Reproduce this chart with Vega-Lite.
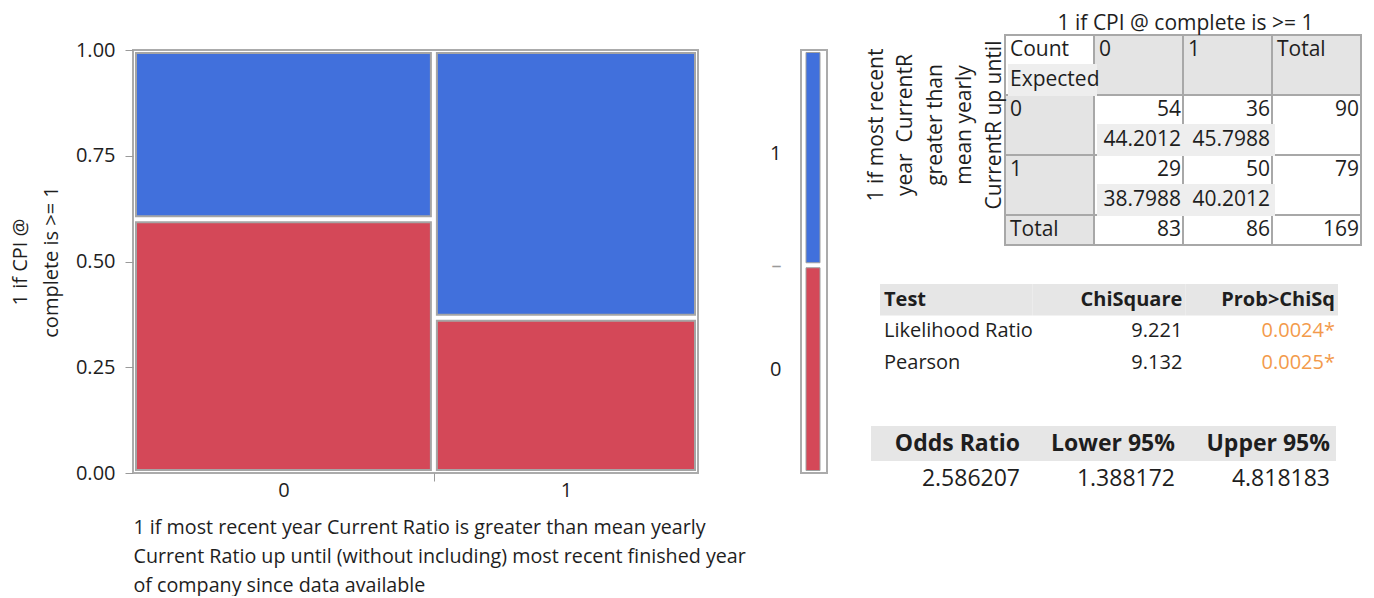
{
  "$schema": "https://vega.github.io/schema/vega-lite/v6.json",
  "background": "white",
  "padding": {"left": 9, "top": 13, "right": 0, "bottom": 0},
  "config": {
    "font": "Open Sans",
    "view": {"stroke": null},
    "axis": {
      "labelFont": "Open Sans",
      "titleFont": "Open Sans",
      "labelColor": "#1e1e1e",
      "titleColor": "#1e1e1e",
      "titleFontWeight": "normal",
      "labelFlush": false,
      "labelOverlap": false,
      "grid": false
    },
    "title": {"font": "Open Sans", "color": "#1e1e1e", "fontWeight": "normal"}
  },
  "datasets": {
    "counts": [
      {"ratio": "0", "cpi": "0", "n": 54},
      {"ratio": "0", "cpi": "1", "n": 36},
      {"ratio": "1", "cpi": "0", "n": 29},
      {"ratio": "1", "cpi": "1", "n": 50}
    ],
    "cpi_totals": [
      {"cpi": "0", "n": 83},
      {"cpi": "1", "n": 86}
    ],
    "ct_cells": [
      {"col": "label", "ln0": -2, "ln1": 0, "kind": "body"},
      {"col": "0", "ln0": -2, "ln1": 0, "kind": "head"},
      {"col": "1", "ln0": -2, "ln1": 0, "kind": "head"},
      {"col": "Total", "ln0": -2, "ln1": 0, "kind": "head"},
      {"col": "label", "ln0": 0, "ln1": 2, "kind": "head"},
      {"col": "label", "ln0": 2, "ln1": 4, "kind": "head"},
      {"col": "label", "ln0": 4, "ln1": 5, "kind": "head"},
      {"col": "0", "ln0": 0, "ln1": 2, "kind": "body"},
      {"col": "1", "ln0": 0, "ln1": 2, "kind": "body"},
      {"col": "Total", "ln0": 0, "ln1": 2, "kind": "body"},
      {"col": "0", "ln0": 2, "ln1": 4, "kind": "body"},
      {"col": "1", "ln0": 2, "ln1": 4, "kind": "body"},
      {"col": "Total", "ln0": 2, "ln1": 4, "kind": "body"},
      {"col": "0", "ln0": 4, "ln1": 5, "kind": "body"},
      {"col": "1", "ln0": 4, "ln1": 5, "kind": "body"},
      {"col": "Total", "ln0": 4, "ln1": 5, "kind": "body"}
    ],
    "ct_shade": [
      {"col": "label", "ln0": -1, "ln1": 0},
      {"col": "0", "ln0": 1, "ln1": 2},
      {"col": "1", "ln0": 1, "ln1": 2},
      {"col": "0", "ln0": 3, "ln1": 4},
      {"col": "1", "ln0": 3, "ln1": 4}
    ],
    "ct_text": [
      {"col": "label", "ln": -1.5, "text": "Count", "kind": "label"},
      {"col": "label", "ln": -0.5, "text": "Expected", "kind": "label"},
      {"col": "0", "ln": -1.5, "text": "0", "kind": "label"},
      {"col": "1", "ln": -1.5, "text": "1", "kind": "label"},
      {"col": "Total", "ln": -1.5, "text": "Total", "kind": "label"},
      {"col": "label", "ln": 0.5, "text": "0", "kind": "label"},
      {"col": "label", "ln": 2.5, "text": "1", "kind": "label"},
      {"col": "label", "ln": 4.5, "text": "Total", "kind": "label"},
      {"col": "0", "ln": 0.5, "text": "54", "kind": "number"},
      {"col": "0", "ln": 1.5, "text": "44.2012", "kind": "number"},
      {"col": "0", "ln": 2.5, "text": "29", "kind": "number"},
      {"col": "0", "ln": 3.5, "text": "38.7988", "kind": "number"},
      {"col": "0", "ln": 4.5, "text": "83", "kind": "number"},
      {"col": "1", "ln": 0.5, "text": "36", "kind": "number"},
      {"col": "1", "ln": 1.5, "text": "45.7988", "kind": "number"},
      {"col": "1", "ln": 2.5, "text": "50", "kind": "number"},
      {"col": "1", "ln": 3.5, "text": "40.2012", "kind": "number"},
      {"col": "1", "ln": 4.5, "text": "86", "kind": "number"},
      {"col": "Total", "ln": 0.5, "text": "90", "kind": "number"},
      {"col": "Total", "ln": 2.5, "text": "79", "kind": "number"},
      {"col": "Total", "ln": 4.5, "text": "169", "kind": "number"}
    ],
    "ct_rowtitle": [
      {"col": "label", "ln": 1, "text": ["1 if most recent", "year\u00a0 CurrentR", "greater than", "mean yearly", "CurrentR up until"]}
    ],
    "tests": [
      {"row": "head", "col": "Test", "text": "Test"},
      {"row": "head", "col": "ChiSquare", "text": "ChiSquare"},
      {"row": "head", "col": "Prob>ChiSq", "text": "Prob>ChiSq"},
      {"row": "lr", "col": "Test", "text": "Likelihood Ratio"},
      {"row": "lr", "col": "ChiSquare", "text": "9.221"},
      {"row": "lr", "col": "Prob>ChiSq", "text": "0.0024*"},
      {"row": "pearson", "col": "Test", "text": "Pearson"},
      {"row": "pearson", "col": "ChiSquare", "text": "9.132"},
      {"row": "pearson", "col": "Prob>ChiSq", "text": "0.0025*"}
    ],
    "odds": [
      {"row": "head", "col": "Odds Ratio", "text": "Odds Ratio"},
      {"row": "head", "col": "Lower 95%", "text": "Lower 95%"},
      {"row": "head", "col": "Upper 95%", "text": "Upper 95%"},
      {"row": "val", "col": "Odds Ratio", "text": "2.586207"},
      {"row": "val", "col": "Lower 95%", "text": "1.388172"},
      {"row": "val", "col": "Upper 95%", "text": "4.818183"}
    ]
  },
  "bounds": "flush",
  "spacing": 103,
  "hconcat": [
    {
      "width": 565,
      "height": 423,
      "view": {"stroke": "#ababab", "strokeWidth": 2},
      "data": {"name": "counts"},
      "transform": [
        {"stack": "n", "groupby": [], "sort": [{"field": "ratio"}, {"field": "cpi"}], "offset": "normalize", "as": ["gx0", "gx1"]},
        {"window": [{"op": "min", "field": "gx0", "as": "x0"}, {"op": "max", "field": "gx1", "as": "x1"}], "groupby": ["ratio"], "frame": [null, null]},
        {"stack": "n", "groupby": ["ratio"], "sort": [{"field": "cpi"}], "offset": "normalize", "as": ["y0", "y1"]}
      ],
      "encoding": {
        "y": {
          "field": "y0",
          "type": "quantitative",
          "scale": {"domain": [0, 1], "nice": false, "zero": false},
          "axis": {
            "values": [0, 0.25, 0.5, 0.75, 1],
            "format": ".2f",
            "domain": false,
            "tickColor": "#9a9a9a",
            "tickSize": 8,
            "labelFontSize": 20,
            "labelPadding": 10,
            "title": ["1 if CPI @", "complete is >= 1"],
            "titleFontSize": 20,
            "titleLineHeight": 31,
            "titlePadding": 14
          }
        },
        "y2": {"field": "y1"}
      },
      "resolve": {"axis": {"x": "independent"}},
      "layer": [
        {
          "mark": {"type": "rect", "xOffset": 3, "x2Offset": -3, "yOffset": -3, "y2Offset": 3},
          "encoding": {
            "x": {
              "field": "x0",
              "type": "quantitative",
              "scale": {"domain": [0, 1], "nice": false, "zero": false},
              "axis": {
                "orient": "bottom",
                "values": [0.2663, 0.7663],
                "labelExpr": "datum.value < 0.5 ? '0' : '1'",
                "ticks": false,
                "domain": false,
                "labelFontSize": 20,
                "labelPadding": 7,
                "title": [
                  "1 if most recent year Current Ratio is greater than mean yearly",
                  "Current Ratio up until (without including) most recent finished year",
                  "of company since data available"
                ],
                "titleFontSize": 19.7,
                "titleLineHeight": 29,
                "titleAnchor": "start",
                "titleAlign": "left",
                "titlePadding": 17
              }
            },
            "x2": {"field": "x1"},
            "color": {
              "field": "cpi",
              "type": "nominal",
              "scale": {"domain": ["0", "1"], "range": ["#D44858", "#4170DC"]},
              "legend": null
            }
          }
        },
        {
          "mark": {"type": "rect", "filled": false, "stroke": "#a5a5a5", "strokeWidth": 2, "xOffset": 3, "x2Offset": -3, "yOffset": -3, "y2Offset": 3},
          "encoding": {
            "x": {
              "field": "x0",
              "type": "quantitative",
              "axis": {
                "orient": "bottom",
                "values": [0.5325],
                "labels": false,
                "domain": false,
                "ticks": true,
                "tickSize": 8,
                "tickColor": "#9a9a9a",
                "title": null
              }
            },
            "x2": {"field": "x1"}
          }
        }
      ]
    },
    {
      "bounds": "flush",
      "spacing": 44,
      "hconcat": [
        {
          "width": 26,
          "height": 423,
          "view": {"stroke": "#ababab", "strokeWidth": 2},
          "data": {"name": "cpi_totals"},
          "transform": [
            {"stack": "n", "groupby": [], "sort": [{"field": "cpi"}], "offset": "normalize", "as": ["y0", "y1"]}
          ],
          "mark": {"type": "rect", "xOffset": 5, "x2Offset": -7, "yOffset": -2.5, "y2Offset": 2.5, "stroke": "#a0a0a0", "strokeWidth": 1},
          "encoding": {
            "x": {"datum": 0, "type": "quantitative", "scale": {"domain": [0, 1], "nice": false}, "axis": null},
            "x2": {"datum": 1},
            "y": {
              "field": "y0",
              "type": "quantitative",
              "scale": {"domain": [0, 1], "nice": false, "zero": false},
              "axis": {
                "values": [0.2456, 0.4911, 0.7544],
                "labelExpr": "datum.value < 0.4 ? '0' : datum.value > 0.6 ? '1' : '–'",
                "ticks": false,
                "domain": false,
                "labelPadding": 20,
                "labelFontSize": 20,
                "labelColor": {"condition": {"test": "datum.value > 0.4 && datum.value < 0.6", "value": "#9a9a9a"}, "value": "#1e1e1e"},
                "title": null
              }
            },
            "y2": {"field": "y1"},
            "color": {
              "field": "cpi",
              "type": "nominal",
              "scale": {"domain": ["0", "1"], "range": ["#D44858", "#4170DC"]},
              "legend": null
            }
          }
        },
        {
          "bounds": "flush",
          "spacing": 39,
          "vconcat": [
            {
              "width": 503,
              "height": 195,
              "title": {"text": "1 if CPI @ complete is >= 1", "fontSize": 21, "anchor": "middle", "dx": 63, "offset": 0},
              "layer": [
                {
                  "data": {"name": "ct_cells"},
                  "mark": {"type": "rect", "stroke": "#a8a8a8", "strokeWidth": 2},
                  "encoding": {
                    "x": {
                      "field": "col",
                      "type": "nominal",
                      "scale": {"type": "band", "domain": ["label", "0", "1", "Total"], "paddingInner": 0, "paddingOuter": 0.82584, "align": 0.91156},
                      "axis": null
                    },
                    "y": {
                      "field": "ln0",
                      "type": "quantitative",
                      "scale": {"domain": [-1.5, 5], "reverse": true, "nice": false, "zero": false},
                      "axis": null
                    },
                    "y2": {"field": "ln1"},
                    "fill": {"condition": {"test": "datum.kind == 'head'", "value": "#e4e4e4"}, "value": "#ffffff"}
                  }
                },
                {
                  "data": {"name": "ct_shade"},
                  "mark": {"type": "rect", "fill": "#eeeeee", "xOffset": 3, "x2Offset": -3, "yOffset": -1, "y2Offset": 1},
                  "encoding": {
                    "x": {"field": "col", "type": "nominal", "axis": null},
                    "y": {"field": "ln0", "type": "quantitative", "axis": null},
                    "y2": {"field": "ln1"}
                  }
                },
                {
                  "data": {"name": "ct_text"},
                  "transform": [{"filter": "datum.kind == 'label'"}],
                  "mark": {"type": "text", "align": "left", "baseline": "middle", "dx": 5, "fontSize": 21, "color": "#1e1e1e"},
                  "encoding": {
                    "x": {"field": "col", "type": "nominal", "bandPosition": 0, "axis": null},
                    "y": {"field": "ln", "type": "quantitative", "axis": null},
                    "text": {"field": "text"}
                  }
                },
                {
                  "data": {"name": "ct_text"},
                  "transform": [{"filter": "datum.kind == 'number'"}],
                  "mark": {"type": "text", "align": "right", "baseline": "middle", "dx": -2, "fontSize": 21, "color": "#1e1e1e"},
                  "encoding": {
                    "x": {"field": "col", "type": "nominal", "bandPosition": 1, "axis": null},
                    "y": {"field": "ln", "type": "quantitative", "axis": null},
                    "text": {"field": "text"}
                  }
                },
                {
                  "data": {"name": "ct_rowtitle"},
                  "mark": {"type": "text", "angle": 270, "align": "center", "baseline": "bottom", "dy": -118, "lineHeight": 29.5, "fontSize": 21, "color": "#1e1e1e"},
                  "encoding": {
                    "x": {"field": "col", "type": "nominal", "bandPosition": 0, "axis": null},
                    "y": {"field": "ln", "type": "quantitative", "axis": null},
                    "text": {"field": "text"}
                  }
                }
              ]
            },
            {
              "width": 503,
              "height": 103,
              "data": {"name": "tests"},
              "encoding": {
                "x": {
                  "field": "col",
                  "type": "nominal",
                  "scale": {"type": "band", "domain": ["Test", "ChiSquare", "Prob>ChiSq"], "paddingInner": 0, "paddingOuter": 0.1474, "align": 0.2},
                  "axis": null
                },
                "y": {
                  "field": "row",
                  "type": "nominal",
                  "scale": {"type": "band", "domain": ["head", "lr", "pearson"], "paddingInner": 0, "paddingOuter": 0.1349, "align": 0},
                  "axis": null
                }
              },
              "layer": [
                {
                  "transform": [{"filter": "datum.row == 'head'"}],
                  "mark": {"type": "rect", "fill": "#e6e6e6"}
                },
                {
                  "transform": [{"filter": "datum.row == 'head' && datum.col == 'Test'"}],
                  "mark": {"type": "text", "align": "left", "baseline": "middle", "dx": 4, "fontSize": 20, "fontWeight": "bold", "color": "#1e1e1e"},
                  "encoding": {"x": {"field": "col", "type": "nominal", "bandPosition": 0}, "text": {"field": "text"}}
                },
                {
                  "transform": [{"filter": "datum.row == 'head' && datum.col != 'Test'"}],
                  "mark": {"type": "text", "align": "right", "baseline": "middle", "dx": -3, "fontSize": 20, "fontWeight": "bold", "color": "#1e1e1e"},
                  "encoding": {"x": {"field": "col", "type": "nominal", "bandPosition": 1}, "text": {"field": "text"}}
                },
                {
                  "transform": [{"filter": "datum.row != 'head' && datum.col == 'Test'"}],
                  "mark": {"type": "text", "align": "left", "baseline": "middle", "dx": 4, "fontSize": 20, "color": "#1e1e1e"},
                  "encoding": {"x": {"field": "col", "type": "nominal", "bandPosition": 0}, "text": {"field": "text"}}
                },
                {
                  "transform": [{"filter": "datum.row != 'head' && datum.col != 'Test'"}],
                  "mark": {"type": "text", "align": "right", "baseline": "middle", "dx": -3, "fontSize": 20},
                  "encoding": {
                    "x": {"field": "col", "type": "nominal", "bandPosition": 1},
                    "text": {"field": "text"},
                    "color": {"condition": {"test": "datum.col == 'Prob>ChiSq'", "value": "#F39A4B"}, "value": "#1e1e1e"}
                  }
                }
              ]
            },
            {
              "width": 503,
              "height": 70,
              "data": {"name": "odds"},
              "encoding": {
                "x": {
                  "field": "col",
                  "type": "nominal",
                  "scale": {"type": "band", "domain": ["Odds Ratio", "Lower 95%", "Upper 95%"], "paddingInner": 0, "paddingOuter": 0.1226, "align": 0},
                  "axis": null
                },
                "y": {
                  "field": "row",
                  "type": "nominal",
                  "scale": {"type": "band", "domain": ["head", "val"], "paddingInner": 0, "paddingOuter": 0},
                  "axis": null
                }
              },
              "layer": [
                {
                  "transform": [{"filter": "datum.row == 'head'"}],
                  "mark": {"type": "rect", "fill": "#e6e6e6"}
                },
                {
                  "transform": [{"filter": "datum.row == 'head'"}],
                  "mark": {"type": "text", "align": "right", "baseline": "middle", "dx": -6, "fontSize": 23, "fontWeight": "bold", "color": "#1e1e1e"},
                  "encoding": {"x": {"field": "col", "type": "nominal", "bandPosition": 1}, "text": {"field": "text"}}
                },
                {
                  "transform": [{"filter": "datum.row == 'val'"}],
                  "mark": {"type": "text", "align": "right", "baseline": "middle", "dx": -6, "fontSize": 23, "color": "#1e1e1e"},
                  "encoding": {"x": {"field": "col", "type": "nominal", "bandPosition": 1}, "text": {"field": "text"}}
                }
              ]
            }
          ]
        }
      ]
    }
  ]
}
